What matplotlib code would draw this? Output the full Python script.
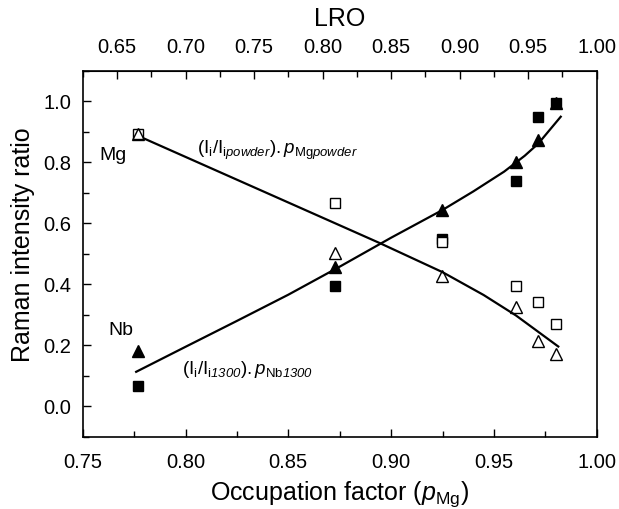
import numpy as np
import matplotlib
matplotlib.use("Agg")
import matplotlib.pyplot as plt
from matplotlib.ticker import MultipleLocator

plt.rcParams['font.family'] = ['Liberation Sans', 'DejaVu Sans']
plt.rcParams['mathtext.fontset'] = 'custom'
plt.rcParams['mathtext.rm'] = 'Liberation Sans'
plt.rcParams['mathtext.it'] = 'Liberation Sans:italic'
plt.rcParams['mathtext.sf'] = 'Liberation Sans:italic'

# occupation factor p_Mg of the samples
p_mg = [0.7767, 0.8729, 0.9248, 0.9607, 0.9716, 0.980]
# Nb sites (filled symbols)
nb_squares = [0.068, 0.395, 0.548, 0.740, 0.950, 0.995]
nb_triangles = [0.180, 0.456, 0.644, 0.802, 0.873, 0.995]
# Mg sites (open symbols)
mg_squares = [0.893, 0.668, 0.540, 0.393, 0.342, 0.270]
mg_triangles = [0.893, 0.504, 0.426, 0.327, 0.213, 0.173]

# fitted curves
nb_fit_p = [0.776, 0.800, 0.825, 0.850, 0.875, 0.900, 0.925, 0.940, 0.955, 0.965, 0.9716, 0.9825]
nb_fit_v = [0.113, 0.195, 0.280, 0.366, 0.458, 0.553, 0.644, 0.705, 0.770, 0.822, 0.862, 0.950]
mg_fit_p = [0.776, 0.8729, 0.8946, 0.925, 0.945, 0.9607, 0.9813]
mg_fit_v = [0.890, 0.600, 0.535, 0.440, 0.365, 0.298, 0.196]

fig = plt.figure(figsize=(6.19, 5.09), dpi=100)
ax = fig.add_axes([0.1336, 0.142, 0.8304, 0.7185])

ax.plot(nb_fit_p, nb_fit_v, color='black', lw=1.6, zorder=2)
ax.plot(mg_fit_p, mg_fit_v, color='black', lw=1.6, zorder=2)

ax.plot(p_mg, nb_squares, 's', color='black', ms=6.5, zorder=3)
ax.plot(p_mg, mg_squares, 's', mfc='white', mec='black', mew=1.0, ms=6.5, zorder=4)
ax.plot(p_mg, nb_triangles, '^', color='black', ms=8, zorder=3)
ax.plot(p_mg, mg_triangles, '^', mfc='none', mec='black', mew=1.0, ms=8, zorder=5)

ax.set_xlim(0.75, 1.00)
ax.set_ylim(-0.1, 1.1)
ax.xaxis.set_major_locator(MultipleLocator(0.05))
ax.xaxis.set_minor_locator(MultipleLocator(0.025))
ax.yaxis.set_major_locator(MultipleLocator(0.2))
ax.yaxis.set_minor_locator(MultipleLocator(0.1))
ax.xaxis.set_major_formatter(plt.FormatStrFormatter('%.2f'))
ax.yaxis.set_major_formatter(plt.FormatStrFormatter('%.1f'))
ax.tick_params(which='both', direction='in', top=False, right=False, labelsize=14.5, width=1.0)
ax.tick_params(which='major', length=6)
ax.tick_params(which='minor', length=4)
ax.tick_params(axis='x', which='major', pad=12)
ax.tick_params(axis='y', which='major', pad=8)
for s in ax.spines.values():
    s.set_linewidth(1.2)

ax.set_xlabel(r'Occupation factor ($\mathit{p}_{\mathrm{Mg}}$)', fontsize=18, labelpad=5)
ax.set_ylabel('Raman intensity ratio', fontsize=18)
ax.yaxis.set_label_coords(-0.092, 0.524)

sec = ax.secondary_xaxis('top', functions=(lambda p: 1.5 * p - 0.5, lambda l: (l + 0.5) / 1.5))
sec.xaxis.set_major_locator(MultipleLocator(0.05))
sec.xaxis.set_minor_locator(MultipleLocator(0.025))
sec.xaxis.set_major_formatter(plt.FormatStrFormatter('%.2f'))
sec.tick_params(which='both', direction='in', labelsize=14.5, width=1.0)
sec.tick_params(which='major', length=6, pad=10)
sec.tick_params(which='minor', length=4)
sec.set_xlabel('LRO', fontsize=18, labelpad=9)

ax.text(0.7648, 0.824, 'Mg', fontsize=14, ha='center', va='center')
ax.text(0.7685, 0.250, 'Nb', fontsize=14, ha='center', va='center')
ax.text(0.8055, 0.84, r'$(\mathrm{I}_\mathrm{i}/\mathrm{I}_{\mathrm{i}\mathit{powder}}).\mathit{p}_{\mathrm{Mg}\mathit{powder}}$',
        fontsize=13.5, ha='left', va='center')
ax.text(0.7982, 0.12, r'$(\mathrm{I}_\mathrm{i}/\mathrm{I}_{\mathrm{i}\mathsf{1300}}).\mathit{p}_{\mathrm{Nb}\mathsf{1300}}$',
        fontsize=13.5, ha='left', va='center')

fig.savefig('out.png', dpi=100)
